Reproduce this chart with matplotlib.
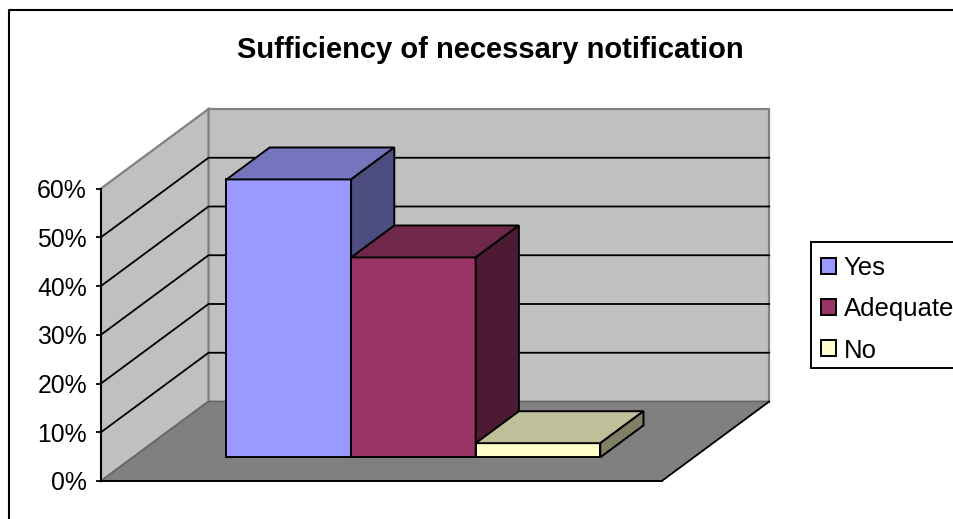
import matplotlib
matplotlib.use('Agg')
import matplotlib.pyplot as plt
from matplotlib.lines import Line2D
from matplotlib.patches import Patch, Polygon, Rectangle
from matplotlib.ticker import PercentFormatter


TITLE = 'Sufficiency of necessary notification'
SERIES = ['Yes', 'Adequate', 'No']
VALUES = [0.57, 0.41, 0.029]
TICKS = [0, 0.1, 0.2, 0.3, 0.4, 0.5, 0.6]

FRONT = ['#9999FF', '#993366', '#FFFFCC']
TOP = ['#7575BD', '#70284A', '#BFBF99']
SIDE = ['#4D4D80', '#4D1A33', '#808066']

WIDTH, HEIGHT = 954, 519

# oblique depth, in data units for a depth of 1 (whole floor)
DEPTH_X = 107.5 / 560.7 * 3
DEPTH_Y = 79.5 / 292.5 * 0.6
BAR_D0 = 0.298
BAR_D1 = 0.70
BAR_START = 0.5
BAR_WIDTH = 2 / 3


def project(x, v, d=0.0):
    return x + d * DEPTH_X, v + d * DEPTH_Y


def face(ax, corners, color, edge='black', lw=1.4, z=2):
    points = [project(*c) for c in corners]
    ax.add_patch(Polygon(points, closed=True, facecolor=color, edgecolor=edge,
                         linewidth=lw, joinstyle='miter', clip_on=False, zorder=z))


def draw_bar(ax, i, value):
    x0 = BAR_START + i * BAR_WIDTH
    x1 = x0 + BAR_WIDTH
    d0, d1 = BAR_D0, BAR_D1
    face(ax, [(x0, 0, d0), (x1, 0, d0), (x1, value, d0), (x0, value, d0)], FRONT[i], z=3 + i)
    face(ax, [(x0, value, d0), (x1, value, d0), (x1, value, d1), (x0, value, d1)], TOP[i], z=3 + i)
    face(ax, [(x1, 0, d0), (x1, 0, d1), (x1, value, d1), (x1, value, d0)], SIDE[i], z=3 + i)


def main():
    plt.rcParams['font.family'] = ['Liberation Sans', 'DejaVu Sans']
    fig = plt.figure(figsize=(WIDTH / 100, HEIGHT / 100), dpi=100, facecolor='white')
    ax = fig.add_axes([101 / WIDTH, 1 - 481 / HEIGHT, 560.7 / WIDTH, 292.5 / HEIGHT])
    ax.patch.set_visible(False)
    ax.set_xlim(0, 3)
    ax.set_ylim(0, 0.6)

    top = TICKS[-1]
    # back wall, side wall, floor
    face(ax, [(0, 0, 1), (3, 0, 1), (3, top, 1), (0, top, 1)], '#C0C0C0', edge='#808080', lw=1.6, z=0)
    face(ax, [(0, 0, 0), (0, 0, 1), (0, top, 1), (0, top, 0)], '#C0C0C0', edge='#808080', lw=1.6, z=0)
    face(ax, [(0, 0, 0), (3, 0, 0), (3, 0, 1), (0, 0, 1)], '#808080', edge='#666666', lw=1.2, z=1)

    for v in TICKS[1:-1]:
        xs, ys = zip(project(0, v, 0), project(0, v, 1), project(3, v, 1))
        ax.plot(xs, ys, color='black', lw=1.3, clip_on=False, zorder=1.5)

    # front right edge of the floor is black
    xs, ys = zip(project(3, 0, 0), project(3, 0, 1))
    ax.plot(xs, ys, color='black', lw=1.2, clip_on=False, zorder=1.5)

    for i, value in enumerate(VALUES):
        draw_bar(ax, i, value)

    ax.set_yticks(TICKS)
    ax.set_xticks([])
    ax.yaxis.set_major_formatter(PercentFormatter(1.0, decimals=0))
    ax.tick_params(axis='y', labelsize=17.8, length=3.6, width=1.3, pad=6.5)
    for side in ['top', 'right']:
        ax.spines[side].set_visible(False)
    ax.spines['left'].set_linewidth(1.4)
    ax.spines['bottom'].set_linewidth(1.4)
    ax.spines['bottom'].set_zorder(2)

    fig.text(490.5 / WIDTH, 1 - 58.5 / HEIGHT, TITLE, fontsize=21, fontweight='bold',
             ha='center', va='baseline')

    # chart frame runs past the right and bottom edges of the picture
    left, upper = 9.5 / WIDTH, 1 - 10 / HEIGHT
    fig.add_artist(Line2D([left, left, 1.0], [0.0, upper, upper], color='black', lw=1.5))

    # legend frame also runs off the right edge
    fig.add_artist(Rectangle((811.3 / WIDTH, 1 - 368.3 / HEIGHT), 0.2, 126 / HEIGHT,
                             facecolor='white', edgecolor='black', linewidth=1.4,
                             transform=fig.transFigure))
    handles = [Patch(facecolor=c, edgecolor='black', linewidth=1.4) for c in FRONT]
    fig.legend(handles, SERIES, loc='upper left', frameon=False,
               bbox_to_anchor=(810.5 / WIDTH, 1 - 244.8 / HEIGHT),
               bbox_transform=fig.transFigure, borderaxespad=0,
               fontsize=18.5, handlelength=0.58, handleheight=0.58,
               handletextpad=0.3, labelspacing=0.68, borderpad=0.42)

    fig.savefig('out.png', dpi=100)


if __name__ == '__main__':
    main()
